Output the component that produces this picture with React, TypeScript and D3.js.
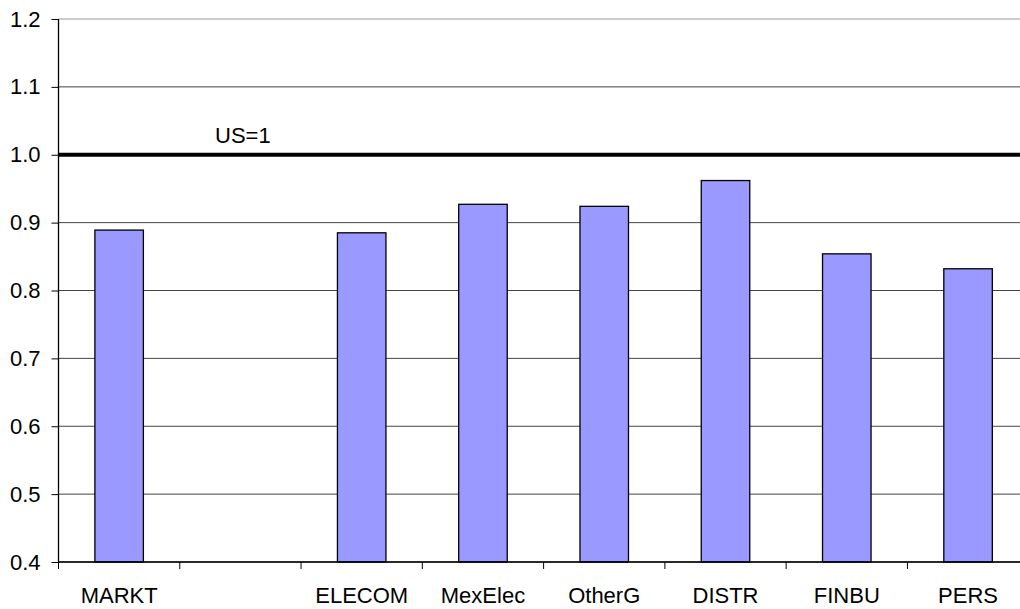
import * as d3 from "d3";
import { useEffect, useRef } from "react";

const categories = ["MARKT", "", "ELECOM", "MexElec", "OtherG", "DISTR", "FINBU", "PERS"];
const values = [0.889, null, 0.885, 0.927, 0.924, 0.962, 0.854, 0.832];
const yTicks = [0.4, 0.5, 0.6, 0.7, 0.8, 0.9, 1.0, 1.1, 1.2];
const refValue = 1.0;
const refLabel = "US=1";

const W = 1020;
const H = 609;
// plot runs a little past the right edge of the picture, as in the original
const margin = { top: 19, right: -8.7, bottom: 47, left: 58.5 };
const FONT = "'Liberation Sans', Arial, sans-serif";

function AxisLeft({ scale }) {
  const ref = useRef(null);
  useEffect(() => {
    if (ref.current) {
      const g = d3.select(ref.current);
      g.call(
        d3.axisLeft(scale).tickValues(yTicks).tickFormat(d3.format(".1f")).tickSize(7).tickPadding(11)
      );
      g.select(".domain").remove();
      g.selectAll(".tick line").attr("stroke", "#000");
      g.selectAll(".tick text").attr("font-family", FONT).attr("font-size", 22).attr("fill", "#000");
    }
  }, [scale]);
  return <g ref={ref} />;
}

export default function App() {
  const width = W - margin.left - margin.right;
  const height = H - margin.top - margin.bottom;

  const keys = categories.map((c, i) => i + ":" + c);
  const x = d3.scaleBand().domain(keys).range([0, width]).padding(0);
  const y = d3.scaleLinear().domain([0.4, 1.2]).range([height, 0]);
  const bw = x.bandwidth() * 0.4;

  return (
    <svg width={W} height={H} style={{ position: "absolute", left: 0, top: 0, background: "#fff" }}>
      <g transform={`translate(${margin.left}, ${margin.top})`}>
        {yTicks.map((t) => (
          <line key={t} x1={0} x2={width} y1={y(t)} y2={y(t)}
            stroke={t === 1.2 ? "#999" : "#444"} strokeWidth={1} />
        ))}
        {values.map((v, i) =>
          v == null ? null : (
            <rect key={i}
              x={x(keys[i]) + (x.bandwidth() - bw) / 2}
              y={y(v)} width={bw} height={height - y(v)}
              fill="#9999FF" stroke="#000" strokeWidth={1.3} />
          )
        )}
        <line x1={0} x2={width} y1={y(refValue)} y2={y(refValue)} stroke="#000" strokeWidth={4} />
        <text x={156.5} y={y(refValue) - 12} fontFamily={FONT} fontSize={22} fill="#000">{refLabel}</text>
        <line x1={0} x2={0} y1={0} y2={height} stroke="#000" strokeWidth={1.3} />
        <line x1={0} x2={width} y1={height} y2={height} stroke="#000" strokeWidth={1.3} />
        {keys.map((k) => (
          <line key={"t" + k} x1={x(k)} x2={x(k)} y1={height} y2={height + 7} stroke="#000" />
        ))}
        {categories.map((c, i) => (
          <text key={"l" + i} x={x(keys[i]) + x.bandwidth() / 2} y={height + 41}
            textAnchor="middle" fontFamily={FONT} fontSize={22} fill="#000">{c}</text>
        ))}
        <AxisLeft scale={y} />
      </g>
    </svg>
  );
}
